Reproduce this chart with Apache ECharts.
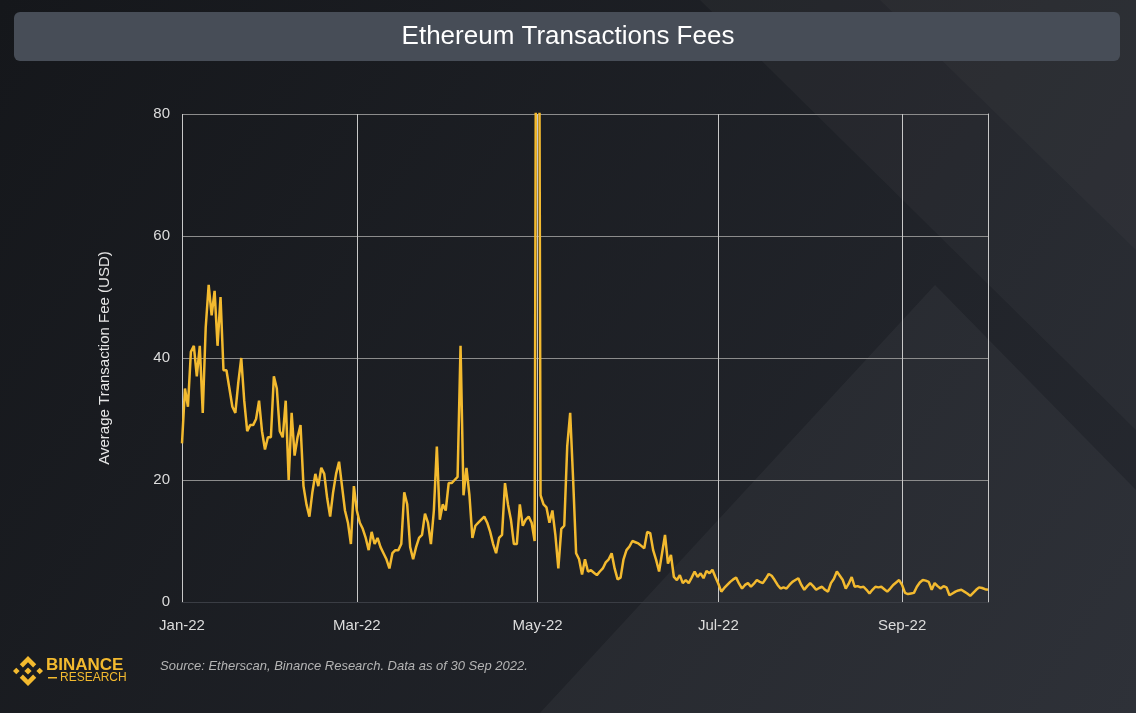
<!DOCTYPE html>
<html>
<head>
<meta charset="utf-8">
<script src="https://cdn.jsdelivr.net/npm/echarts@6/dist/echarts.min.js"></script>
<style>
  html, body { margin: 0; padding: 0; background: #1c1e23; }
  #chart { width: 1136px; height: 713px; }
</style>
</head>
<body>
<div id="chart"></div>
<script>
// daily average fee in USD, 1 Jan 2022 .. 30 Sep 2022
const startDay = [2022, 0, 1];
const fees = [
  26, 35, 32, 41, 42, 37, 42, 31, 45, 52,
  47, 51, 42, 50, 38, 38, 35, 32, 31, 36,
  40, 33, 28, 29, 29, 30, 33, 28, 25, 27,
  27, 37, 35, 28, 27, 33, 20, 31, 24, 27,
  29, 19, 16, 14, 18, 21, 19, 22, 21, 17,
  14, 18, 21, 23, 19, 15, 13, 9.5, 19, 15,
  13, 12, 10.5, 8.5, 11.5, 9.5, 10.5, 9, 8, 7,
  5.5, 8, 8.5, 8.5, 9.5, 18, 16, 9, 7, 9,
  10.5, 11, 14.5, 13, 9.5, 15, 25.5, 13.5, 16, 15,
  19.5, 19.5, 20, 20.5, 42, 17.5, 22, 17.5, 10.5, 12.5,
  13, 13.5, 14, 13, 11.5, 9.5, 8, 10.5, 11, 19.5,
  16, 13.5, 9.5, 9.5, 16, 12.5, 13.5, 14, 13, 10,
  196, 17.5, 16, 15.5, 13, 15, 11, 5.5, 12, 12.5,
  25.5, 31, 20, 8, 7, 4.5, 7, 5, 5.2, 4.8,
  4.4, 5, 5.5, 6.5, 7, 8, 5.5, 3.7, 4, 7,
  8.5, 9.1, 10, 9.8, 9.6, 9.2, 8.8, 11.5, 11.3, 8.5,
  6.9, 5, 8, 11, 6.3, 7.7, 4.1, 3.6, 4.4, 3.1,
  3.6, 3.1, 4, 5, 4.1, 4.7, 3.9, 5.1, 4.7, 5.3,
  4.1, 3, 1.7, 2.3, 2.8, 3.3, 3.7, 4, 3, 2.2,
  2.8, 3.1, 2.5, 3, 3.6, 3.3, 3.1, 3.8, 4.6, 4.3,
  3.6, 2.8, 2.2, 2.4, 2.2, 2.8, 3.3, 3.6, 3.9, 2.8,
  2, 2.6, 3.1, 2.6, 2, 2.3, 2.5, 2, 1.7, 3.1,
  3.8, 5, 4.3, 3.6, 2.2, 3, 4.1, 2.5, 2.6, 2.4,
  2.5, 2, 1.4, 2, 2.5, 2.4, 2.5, 2.1, 1.7, 2.2,
  2.8, 3.2, 3.6, 2.8, 1.5, 1.3, 1.4, 1.5, 2.5, 3.2,
  3.6, 3.5, 3.3, 2, 3.1, 2.6, 2.2, 2.6, 2.4, 1.1,
  1.4, 1.7, 1.9, 2, 1.7, 1.4, 1, 1.5, 2, 2.4,
  2.3, 2.1, 2.0
];
// one label every second month, keyed by month number
const tickMonths = ['01', '03', '05', '07', '09'];
const tickLabels = ['Jan-22', 'Mar-22', 'May-22', 'Jul-22', 'Sep-22'];

const dates = fees.map((v, i) => {
  const d = new Date(Date.UTC(startDay[0], startDay[1], startDay[2] + i));
  return d.toISOString().slice(0, 10);
});

function isTick(index, value) {
  return value.slice(8) === '01' && tickMonths.indexOf(value.slice(5, 7)) >= 0;
}

const lineColor = '#f3ba2f';
const font = 'Liberation Sans, Arial, sans-serif';
const chart = echarts.init(document.getElementById('chart'));

// binance logo, unit shapes scaled around a centre
function logoShapes(cx, cy, s) {
  const p = pts => pts.map(q => [cx + q[0] * s, cy + q[1] * s]);
  const diamond = (x, y, r) => p([[x, y - r], [x + r, y], [x, y + r], [x - r, y]]);
  const top = [[0, -1], [0.55, -0.45], [0.34, -0.24], [0, -0.58], [-0.34, -0.24], [-0.55, -0.45]];
  const bottom = top.map(q => [q[0], -q[1]]);
  return [
    diamond(0, 0, 0.24), diamond(-0.78, 0, 0.22), diamond(0.78, 0, 0.22), p(top), p(bottom)
  ].map(pts => ({
    type: 'polygon', z: 10, shape: { points: pts }, style: { fill: lineColor }
  }));
}

const option = {
  backgroundColor: {
    type: 'linear', x: 0, y: 0, x2: 1, y2: 1,
    colorStops: [{ offset: 0, color: '#15171b' }, { offset: 1, color: '#262930' }]
  },
  animation: false,
  textStyle: { fontFamily: font },
  grid: { left: 182, right: 148, top: 114, bottom: 111 },
  graphic: [
    { type: 'polygon', z: -1, shape: { points: [[700, 0], [1136, 0], [1136, 430]] },
      style: { fill: 'rgba(255,255,255,0.03)' } },
    { type: 'polygon', z: -1, shape: { points: [[880, 0], [1136, 0], [1136, 250]] },
      style: { fill: 'rgba(255,255,255,0.025)' } },
    { type: 'polygon', z: -1, shape: { points: [[540, 713], [935, 285], [1136, 490], [1136, 713]] },
      style: { fill: 'rgba(255,255,255,0.04)' } },
    { type: 'rect', z: 10, shape: { x: 14, y: 12, width: 1106, height: 49, r: 6 },
      style: { fill: '#474d57' } },
    { type: 'text', z: 11, left: 'center', top: 24,
      style: { text: 'Ethereum Transactions Fees', fill: '#ffffff', fontSize: 26, fontFamily: font } },
    ...logoShapes(28, 671, 15),
    { type: 'text', z: 11, left: 46, top: 657,
      style: { text: 'BINANCE', fill: lineColor, fontSize: 17, fontWeight: 'bold', fontFamily: font } },
    { type: 'rect', z: 11, shape: { x: 48, y: 677, width: 9, height: 1.5 }, style: { fill: lineColor } },
    { type: 'text', z: 11, left: 60, top: 672,
      style: { text: 'RESEARCH', fill: lineColor, fontSize: 12, fontFamily: font } },
    { type: 'text', z: 11, left: 160, top: 660,
      style: { text: 'Source: Etherscan, Binance Research. Data as of 30 Sep 2022.',
        fill: '#b4b4b4', fontSize: 13, fontStyle: 'italic', fontFamily: font } }
  ],
  xAxis: {
    type: 'category',
    data: dates,
    boundaryGap: false,
    axisLine: { show: true, lineStyle: { color: '#3a3d44', width: 1 } },
    axisTick: { show: false },
    axisLabel: {
      interval: isTick, color: '#dcdcdc', fontSize: 15, margin: 16,
      formatter: v => tickLabels[tickMonths.indexOf(v.slice(5, 7))]
    },
    splitLine: { show: true, interval: isTick, lineStyle: { color: '#c8c8c8', width: 1 } }
  },
  yAxis: [{
    type: 'value',
    min: 0, max: 80, interval: 20,
    name: 'Average Transaction Fee (USD)',
    nameLocation: 'middle',
    nameGap: 70,
    nameTextStyle: { color: '#e6e6e6', fontSize: 15 },
    axisLine: { show: false },
    axisTick: { show: false },
    axisLabel: { color: '#dcdcdc', fontSize: 15, margin: 12 },
    splitLine: { lineStyle: { color: '#8c8c8c', width: 1 } }
  }, {
    // right frame line of the plot
    type: 'value', position: 'right',
    min: 0, max: 80, interval: 20,
    axisLine: { show: true, lineStyle: { color: '#c8c8c8', width: 1 } },
    axisTick: { show: false },
    axisLabel: { show: false },
    splitLine: { show: false }
  }],
  series: [{
    type: 'line',
    data: fees,
    showSymbol: false,
    clip: true,
    lineStyle: { color: lineColor, width: 2.5 },
    itemStyle: { color: lineColor }
  }]
};

chart.setOption(option);
</script>
</body>
</html>
